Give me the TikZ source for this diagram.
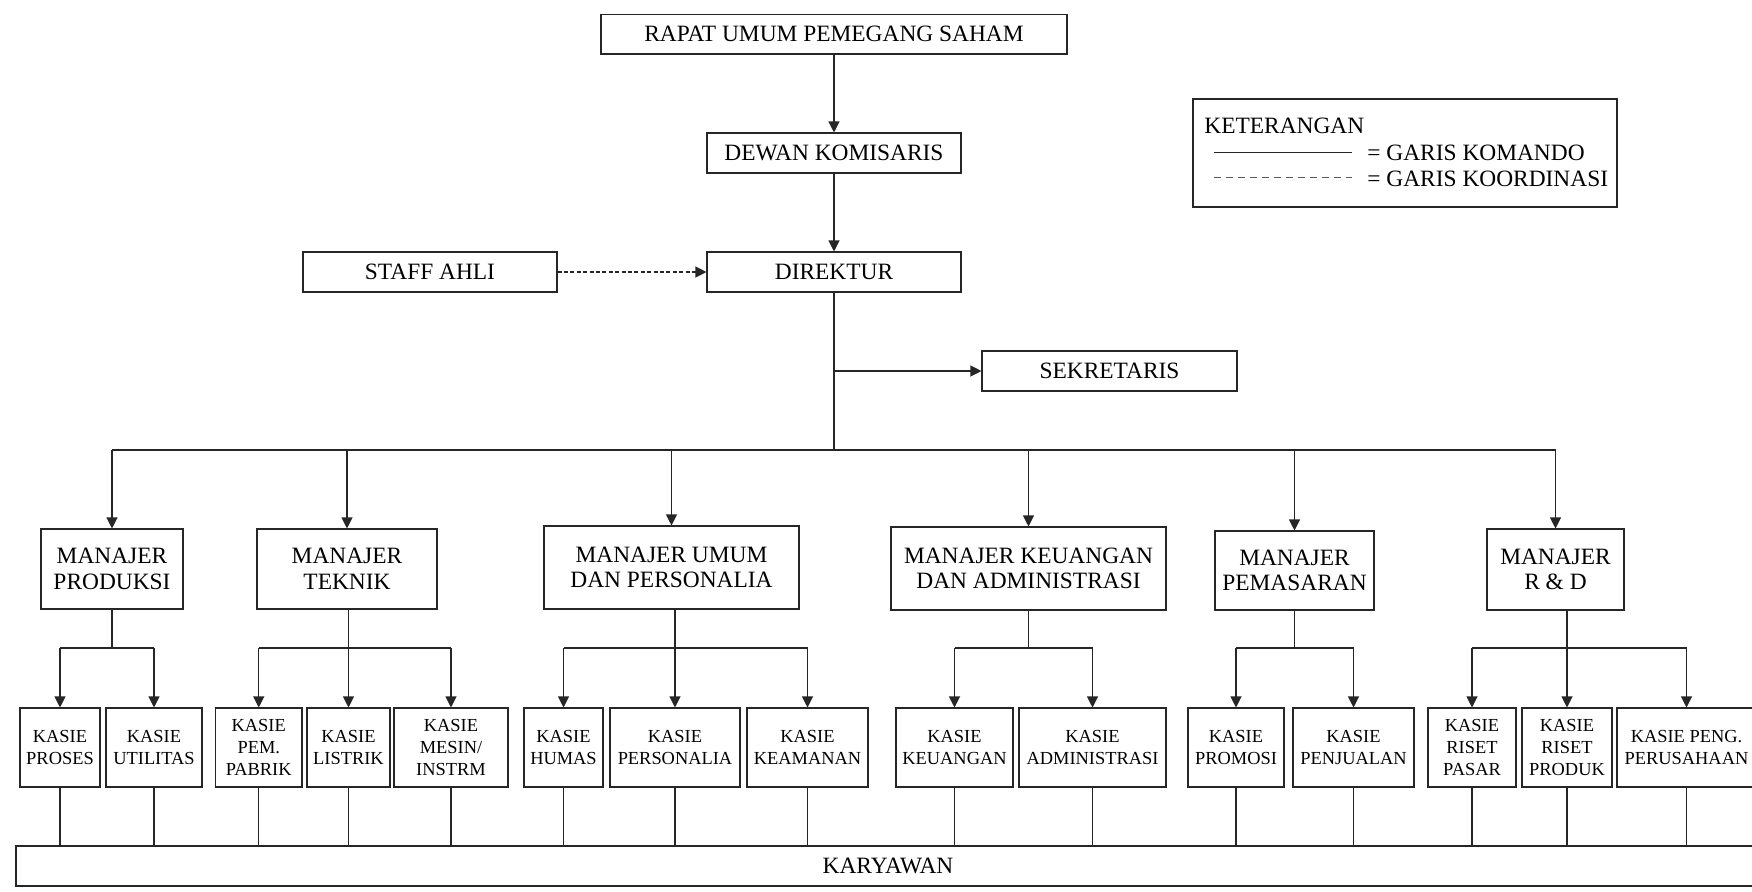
\documentclass[tikz,border=0pt]{standalone}
\usepackage{fontspec}
\setmainfont{Liberation Serif}
\usetikzlibrary{arrows.meta}
\newcommand\mainfs{\fontsize{11.7}{12.85}\selectfont}
\newcommand\kasfs{\fontsize{9.2}{10.85}\selectfont}
\newcommand\bnode[7]{\node[#1, minimum width={(#5-#3)*0.5pt}, minimum height={(#6-#4)*0.5pt}] (#2) at ({(#3+#5)/2},{(#4+#6)/2}) {#7};}
\tikzset{
  ln/.style={line width=0.55pt, draw=black!85},
  bx/.style={draw=black!85, line width=0.55pt, inner sep=0pt, align=center, font=\mainfs},
  kbx/.style={bx, font=\kasfs},
  arr/.style={ln, -{Triangle[length=5.5pt,width=5.5pt]}},
  darr/.style={ln, dash pattern=on 2pt off 1.2pt, -{Triangle[length=5.5pt,width=5.5pt]}},
  legtxt/.style={anchor=base west, inner sep=0pt, font=\mainfs},
}
\begin{document}
\begin{tikzpicture}[x=0.5pt, y=-0.5pt]
\useasboundingbox (0,0) rectangle (1752,891);
\clip (0,0) rectangle (1752,891);
\fill[white] (0,0) rectangle (1752,891);
% top
\bnode{bx}{rups}{601}{14.5}{1067}{54}{RAPAT UMUM PEMEGANG SAHAM}
\bnode{bx}{dk}{707}{133}{961}{173}{DEWAN KOMISARIS}
\bnode{bx}{dir}{707}{252}{961}{292}{DIREKTUR}
\bnode{bx}{sa}{303}{252}{557}{292}{STAFF AHLI}
\bnode{bx}{sek}{982}{351}{1237}{391}{SEKRETARIS}
% legend
\bnode{bx}{leg}{1193}{99}{1617}{207}{}
\node[legtxt] (kt) at (1204,133) {KETERANGAN};
\node[legtxt] (gk) at (1367,160) {= GARIS KOMANDO};
\node[legtxt] (gko) at (1367,186) {= GARIS KOORDINASI};
\coordinate (l1a) at (1214,152.7);
\coordinate (l1b) at (1352,152.7);
\coordinate (l2a) at (1214,177.7);
\coordinate (l2b) at (1352,177.7);
\draw[ln] (l1a) -- (l1b);
\draw[ln, draw=black!65, dash pattern=on 3.5pt off 2.5pt] (l2a) -- (l2b);
% managers
\bnode{bx}{mp}{41}{529}{183}{609}{MANAJER\\PRODUKSI}
\bnode{bx}{mt}{257}{529}{437}{609}{MANAJER\\TEKNIK}
\bnode{bx}{mu}{544}{526}{799}{609}{MANAJER UMUM\\DAN PERSONALIA}
\bnode{bx}{mk}{891}{527}{1166}{610}{MANAJER KEUANGAN\\DAN ADMINISTRASI}
\bnode{bx}{mpm}{1215}{531}{1374}{610}{MANAJER\\PEMASARAN}
\bnode{bx}{mrd}{1487}{529}{1624}{610}{MANAJER\\R \& D}
% kasie
\bnode{kbx}{kpro}{20}{708}{100}{787}{KASIE\\PROSES}
\bnode{kbx}{kuti}{106}{708}{202}{787}{KASIE\\UTILITAS}
\bnode{kbx}{kpem}{215.5}{708}{302}{787}{KASIE\\PEM.\\PABRIK}
\bnode{kbx}{klis}{307}{708}{390}{787}{KASIE\\LISTRIK}
\bnode{kbx}{kmes}{394}{708}{508}{787}{KASIE\\MESIN/\\INSTRM}
\bnode{kbx}{khum}{524}{708}{603}{787}{KASIE\\HUMAS}
\bnode{kbx}{kper}{610}{708}{740}{787}{KASIE\\PERSONALIA}
\bnode{kbx}{kkea}{747}{708}{868}{787}{KASIE\\KEAMANAN}
\bnode{kbx}{kkeu}{896}{708}{1013}{787}{KASIE\\KEUANGAN}
\bnode{kbx}{kadm}{1019}{708}{1166}{787}{KASIE\\ADMINISTRASI}
\bnode{kbx}{kprm}{1188}{708}{1284}{787}{KASIE\\PROMOSI}
\bnode{kbx}{kpen}{1293}{708}{1414}{787}{KASIE\\PENJUALAN}
\bnode{kbx}{krs}{1428}{708}{1516}{787}{KASIE\\RISET\\PASAR}
\bnode{kbx}{krp}{1522}{708}{1612}{787}{KASIE\\RISET\\PRODUK}
\bnode{kbx}{kpp}{1617}{708}{1756}{787}{KASIE PENG.\\PERUSAHAAN}
% karyawan
\bnode{bx}{kar}{16}{846}{1760}{886}{KARYAWAN}
% connectors top
\coordinate (busy) at (0,450);
\coordinate (bry) at (0,648);
\draw[arr] (rups) -- (dk);
\draw[arr] (dk) -- (dir);
\draw[darr] (sa) -- (dir);
\draw[ln] (dir.south) -- (dir.south |- busy);
\draw[arr] (dir.south |- sek.west) -- (sek.west);
\draw[ln] (mp.north |- busy) -- (mrd.north |- busy);
\foreach \m in {mp,mt,mu,mk,mpm,mrd}{\draw[arr] (\m.north |- busy) -- (\m.north);}
% manager to kasie
\draw[ln] (mp.south) -- (mp.south |- bry);
\draw[ln] (kpro.north |- bry) -- (kuti.north |- bry);
\draw[ln] (klis.north |- mt.south) -- (klis.north |- bry);
\draw[ln] (kpem.north |- bry) -- (kmes.north |- bry);
\draw[ln] (kper.north |- mu.south) -- (kper.north |- bry);
\draw[ln] (khum.north |- bry) -- (kkea.north |- bry);
\draw[ln] (mk.south) -- (mk.south |- bry);
\draw[ln] (kkeu.north |- bry) -- (kadm.north |- bry);
\draw[ln] (mpm.south) -- (mpm.south |- bry);
\draw[ln] (kprm.north |- bry) -- (kpen.north |- bry);
\draw[ln] (krp.north |- mrd.south) -- (krp.north |- bry);
\draw[ln] (krs.north |- bry) -- (kpp.north |- bry);
\foreach \k in {kpro,kuti,kpem,klis,kmes,khum,kper,kkea,kkeu,kadm,kprm,kpen,krs,krp,kpp}{
  \draw[arr] (\k.north |- bry) -- (\k.north);
  \draw[ln] (\k.south) -- (\k.south |- kar.north);
}
\end{tikzpicture}
\end{document}
